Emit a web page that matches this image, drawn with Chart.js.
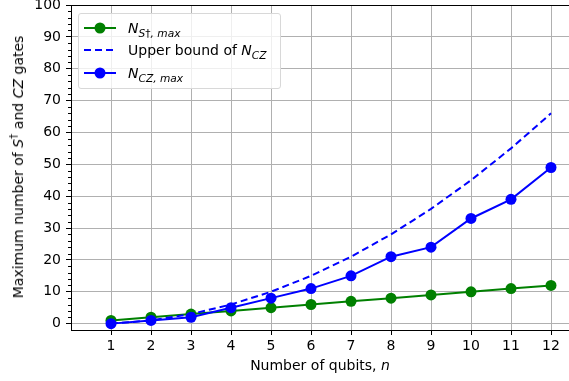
<!DOCTYPE html>
<html>
<head>
<meta charset="utf-8">
<script src="https://cdn.jsdelivr.net/npm/chart.js@4.4.1/dist/chart.umd.min.js"></script>
<style>
  html, body { margin: 0; padding: 0; background: #fff; }
  #wrap { position: relative; width: 569px; height: 381px; font-family: "DejaVu Sans", sans-serif; color: #000; overflow: hidden; }
  #chart { position: absolute; left: 0; top: 0; }
  .xtitle { position: absolute; top: 357px; left: 71px; width: 498px; text-align: center; font-size: 14px; white-space: nowrap; }
  .ytitle { position: absolute; left: 18px; top: 167px; transform: translate(-50%, -50%) rotate(-90deg); font-size: 14px; white-space: nowrap; }
  #legend { position: absolute; left: 78px; top: 13px; width: 201px; height: 74px; border: 1px solid #d8d8d8; border-radius: 3px; background: rgba(255,255,255,0.8); font-size: 14px; }
  .row { position: absolute; left: 5px; height: 22px; display: flex; align-items: center; white-space: nowrap; }
  .row svg { margin-right: 12px; }
  sub, sup { font-size: 76%; line-height: 0; }
  i { font-style: italic; }
</style>
</head>
<body>
<div id="wrap">
  <canvas id="chart" width="569" height="381"></canvas>
  <div class="ytitle">Maximum number of <i>S</i><sup>†</sup> and <i>CZ</i> gates</div>
  <div class="xtitle">Number of qubits, <i>n</i></div>
  <div id="legend"></div>
</div>
<script>
// data
const qubits = [1, 2, 3, 4, 5, 6, 7, 8, 9, 10, 11, 12];
const nSdagMax = [1, 2, 3, 4, 5, 6, 7, 8, 9, 10, 11, 12];
const nCzUpper = [0, 1, 3, 6, 10, 15, 21, 28, 36, 45, 55, 66];
const nCzMax = [0, 1, 2, 5, 8, 11, 15, 21, 24, 33, 39, 49];
const yTicks = [0, 10, 20, 30, 40, 50, 60, 70, 80, 90, 100];

const seriesLabels = [
  '<i>N</i><sub><i>S</i>†<i>, max</i></sub>',
  'Upper bound of <i>N</i><sub><i>CZ</i></sub>',
  '<i>N</i><sub><i>CZ, max</i></sub>'
];

const GREEN = '#008000';
const BLUE = '#0000ff';
const FONT = { family: 'DejaVu Sans', size: 14 };

const toPoints = arr => qubits.map((q, i) => ({ x: q, y: arr[i] }));

// extra frame bits: top spine and y minor ticks
const framePlugin = {
  id: 'frame',
  afterDraw(chart) {
    const { ctx, chartArea } = chart;
    const y = chart.scales.y;
    ctx.save();
    ctx.strokeStyle = '#000';
    ctx.lineWidth = 1;
    ctx.beginPath();
    ctx.moveTo(chartArea.left, chartArea.top + 0.5);
    ctx.lineTo(chartArea.right, chartArea.top + 0.5);
    for (let v = 0; v <= 100; v += 2) {
      if (v % 10 === 0) continue;
      const py = Math.round(y.getPixelForValue(v)) + 0.5;
      ctx.moveTo(chartArea.left, py);
      ctx.lineTo(chartArea.left - 3, py);
    }
    ctx.stroke();
    ctx.restore();
  }
};

const chart = new Chart(document.getElementById('chart'), {
  type: 'line',
  data: {
    datasets: [
      {
        label: 'NSdag',
        data: toPoints(nSdagMax),
        borderColor: GREEN,
        backgroundColor: GREEN,
        borderWidth: 2,
        pointRadius: 5.5,
        pointBorderWidth: 0,
        order: 3
      },
      {
        label: 'upper',
        data: toPoints(nCzUpper),
        borderColor: BLUE,
        borderWidth: 2,
        borderDash: [7, 4],
        pointRadius: 0,
        order: 2
      },
      {
        label: 'NCZ',
        data: toPoints(nCzMax),
        borderColor: BLUE,
        backgroundColor: BLUE,
        borderWidth: 2,
        pointRadius: 5.5,
        pointBorderWidth: 0,
        order: 1
      }
    ]
  },
  options: {
    responsive: false,
    animation: false,
    events: [],
    // plot runs off the right edge in the original
    layout: { autoPadding: false, padding: { top: 5, right: 0, left: 0, bottom: 0 } },
    plugins: {
      legend: { display: false },
      tooltip: { enabled: false }
    },
    scales: {
      x: {
        type: 'linear',
        min: 0,
        max: 12.45,
        afterBuildTicks: s => { s.ticks = qubits.map(v => ({ value: v })); },
        afterFit: s => { s.height = 51; s.paddingLeft = 0; s.paddingRight = 0; },
        grid: { color: '#b0b0b0', lineWidth: 1, tickLength: 5, tickColor: '#000' },
        border: { color: '#000', width: 1 },
        ticks: { font: FONT, color: '#000', padding: 3, maxRotation: 0 }
      },
      y: {
        min: -2,
        max: 100,
        afterBuildTicks: s => { s.ticks = yTicks.map(v => ({ value: v })); },
        afterFit: s => { s.width = 71; s.paddingTop = 0; s.paddingBottom = 0; },
        grid: { color: '#b0b0b0', lineWidth: 1, tickLength: 5, tickColor: '#000' },
        border: { color: '#000', width: 1 },
        ticks: { font: FONT, color: '#000', padding: 5 }
      }
    }
  },
  plugins: [framePlugin]
});

// legend in html so the sub/superscripts render
const legend = document.getElementById('legend');
const rowTops = [3, 25, 48];
chart.data.datasets.forEach((ds, i) => {
  const row = document.createElement('div');
  row.className = 'row';
  row.style.top = rowTops[i] + 'px';
  const dash = ds.borderDash ? 'stroke-dasharray="7 4"' : '';
  const dot = ds.pointRadius ? `<circle cx="16" cy="6" r="5.5" fill="${ds.borderColor}"/>` : '';
  row.innerHTML = `<svg width="32" height="12"><line x1="0" y1="6" x2="32" y2="6" stroke="${ds.borderColor}" stroke-width="2" ${dash}/>${dot}</svg><span>${seriesLabels[i]}</span>`;
  legend.appendChild(row);
});
</script>
</body>
</html>
